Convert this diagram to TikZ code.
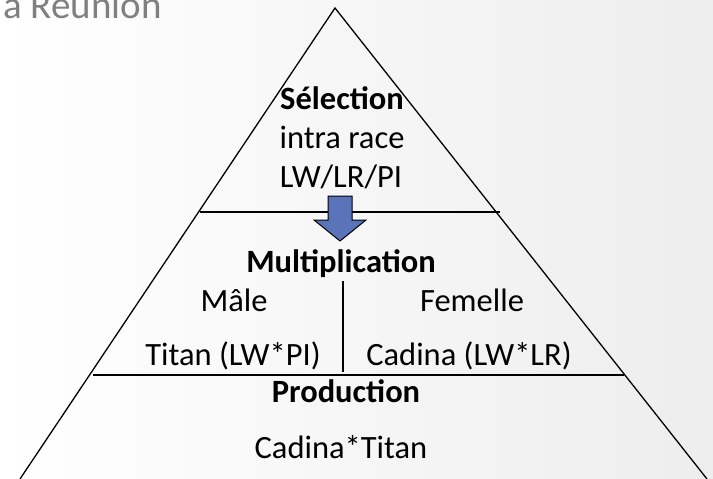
\documentclass[tikz,border=0pt]{standalone}
\usepackage{fontspec}
\setmainfont{Carlito}
\usetikzlibrary{positioning}

\definecolor{arrowblue}{RGB}{91,115,184}
\definecolor{titlegray}{RGB}{128,128,128}

\tikzset{
    pyrline/.style={black, line width=1.3pt},
    pyrtext/.style={anchor=base, inner sep=0pt, font=\fontsize{32.5}{39}\selectfont},
    pyrhead/.style={pyrtext, font=\fontsize{32.5}{39}\selectfont\bfseries}
}

\begin{document}
\begin{tikzpicture}[x=1pt, y=-1pt]
    \useasboundingbox (0,0) rectangle (713,479);
    \clip (0,0) rectangle (713,479);

    %%% Background %%%
    \shade[left color=white, right color=black!7] (0,0) rectangle (713,479);

    %%% Title (cut by the top edge) %%%
    \node[anchor=base west, inner sep=0pt, text=titlegray,
          font=\fontsize{39}{46}\selectfont] (title) at (3,18) {a Réunion};

    %%% Pyramid %%%
    \draw[pyrline] (20,479) -- (335,8) -- (707,479);
    % Level boundaries
    \draw[pyrline] (200,212) -- (500,212);
    \draw[pyrline] (93,375) -- (624,375);
    % Male / female split
    \draw[pyrline] (343,281) -- (343,372);

    %%% Arrow between levels %%%
    \draw[black, line width=1pt, fill=arrowblue]
        (328,196) -- (352,196) -- (352,220) -- (366,220) -- (340,241)
        -- (314,220) -- (328,220) -- cycle;

    %%% Level 1 %%%
    \node[pyrhead] (selection) at (342,109) {Sélection};
    \node[pyrtext] (intra)     at (342,148) {intra race};
    \node[pyrtext] (races)     at (341,187) {LW/LR/PI};

    %%% Level 2 %%%
    \node[pyrhead] (multi)   at (341,272) {Multiplication};
    \node[pyrtext] (male)    at (234,311) {Mâle};
    \node[pyrtext] (femelle) at (472,311) {Femelle};
    \node[pyrtext] (titan)   at (233,365) {Titan (LW*PI)};
    \node[pyrtext] (cadina)  at (469,365) {Cadina (LW*LR)};

    %%% Level 3 %%%
    \node[pyrhead] (prod)  at (346,402) {Production};
    \node[pyrtext] (cross) at (341,458) {Cadina*Titan};
\end{tikzpicture}
\end{document}
